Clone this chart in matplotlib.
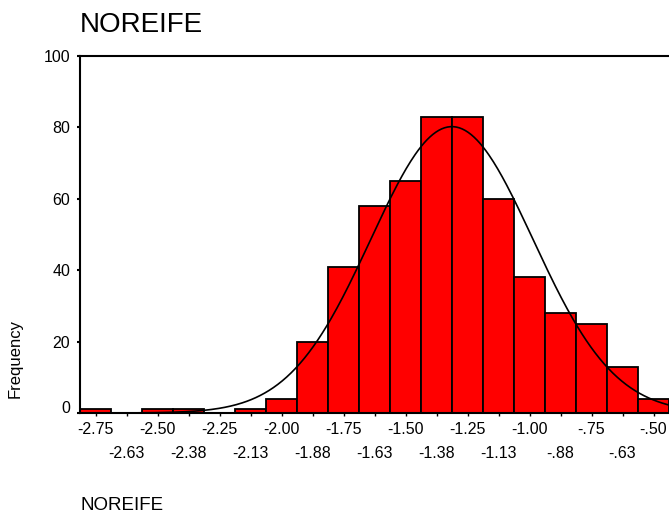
import numpy as np
import matplotlib
matplotlib.use("Agg")
import matplotlib.pyplot as plt
import matplotlib.transforms as mtransforms

# ---- data ----
bin_centers = [-2.75, -2.625, -2.5, -2.375, -2.25, -2.125, -2.0, -1.875, -1.75,
               -1.625, -1.5, -1.375, -1.25, -1.125, -1.0, -0.875, -0.75, -0.625, -0.5]
counts = [1, 0, 1, 1, 0, 1, 4, 20, 41, 58, 65, 83, 83, 60, 38, 28, 25, 13, 4]
bin_width = 0.125
tick_labels = ["-2.75", "-2.63", "-2.50", "-2.38", "-2.25", "-2.13", "-2.00", "-1.88",
               "-1.75", "-1.63", "-1.50", "-1.38", "-1.25", "-1.13", "-1.00", "-.88",
               "-.75", "-.63", "-.50"]
y_ticks = [0, 20, 40, 60, 80, 100]
curve_mean = -1.313
curve_sd = 0.327
title = "NOREIFE"
x_label = "NOREIFE"
y_label = "Frequency"

plt.rcParams['font.family'] = ['Liberation Sans', 'DejaVu Sans']

W, H = 669, 515
fig = plt.figure(figsize=(W / 100, H / 100), dpi=100)
ax = fig.add_axes([80 / W, 1 - 413 / H, 589 / W, (413 - 56) / H])

ax.bar(bin_centers, counts, width=bin_width, color="#ff0000",
       edgecolor="black", linewidth=1.3, zorder=2)

n_total = sum(counts)
xs = np.linspace(bin_centers[0] - bin_width / 2, bin_centers[-1] + bin_width / 2, 400)
ys = n_total * bin_width / (curve_sd * np.sqrt(2 * np.pi)) * np.exp(-0.5 * ((xs - curve_mean) / curve_sd) ** 2)
ax.plot(xs, ys, color="black", linewidth=1.2, zorder=3)

ax.set_xlim(bin_centers[0] - bin_width / 2, bin_centers[-1] + bin_width / 2)
ax.set_ylim(0, 100)

# x ticks: two staggered rows
ax.set_xticks(bin_centers[0::2])
ax.set_xticklabels(tick_labels[0::2])
ax.set_xticks(bin_centers[1::2], minor=True)
ax.set_xticklabels(tick_labels[1::2], minor=True)
ax.tick_params(axis='x', which='major', length=2, width=1, pad=4.5, labelsize=11.5)
ax.tick_params(axis='x', which='minor', length=2, width=1, pad=21.5, labelsize=11.5)

ax.set_yticks(y_ticks)
ax.set_yticklabels([str(v) for v in y_ticks])
ax.tick_params(axis='y', length=2, width=1.5, pad=5, labelsize=11.5)
# SPSS lifts the "0" label slightly
lbl0 = ax.get_yticklabels()[0]
lbl0.set_transform(lbl0.get_transform() + mtransforms.ScaledTranslation(0, 6 / 100, fig.dpi_scale_trans))

for side in ["left", "bottom", "top"]:
    ax.spines[side].set_linewidth(1.5)
    ax.spines[side].set_color("black")
ax.spines["right"].set_visible(False)

fig.text(80 / W, 1 - 32.5 / H, title, fontsize=20, ha="left", va="baseline")
fig.text(80 / W, 1 - 510.5 / H, x_label, fontsize=13.5, ha="left", va="baseline")
fig.text(15 / W, 1 - 358 / H, y_label, fontsize=12, rotation=90, ha="center", va="center")

fig.savefig("out.png", dpi=100)
